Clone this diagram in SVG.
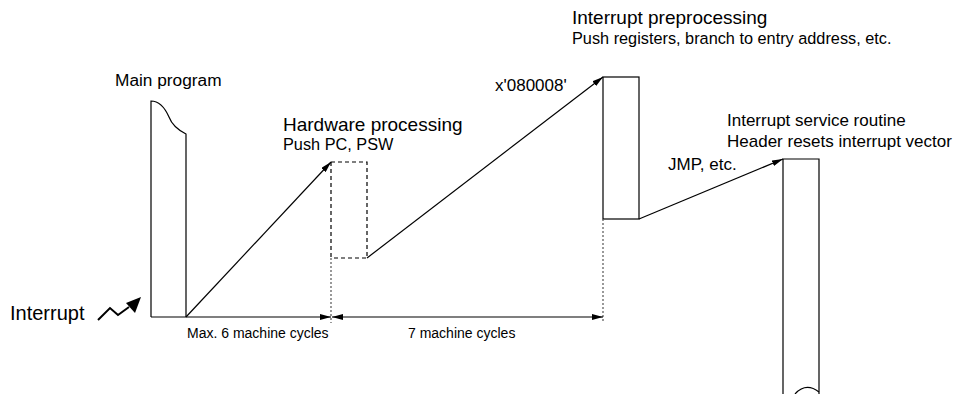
<svg xmlns="http://www.w3.org/2000/svg" width="971" height="394" viewBox="0 0 971 394">
<style>
text{font-family:"Liberation Sans",Arial,sans-serif;fill:#000}
.l{stroke:#000;stroke-width:1.2;fill:none}
.d{stroke:#000;stroke-width:1.2;fill:none;stroke-dasharray:4 3}
.o{stroke:#555;stroke-width:1.2;fill:none;stroke-dasharray:2 2}
.t1{font-size:19px}
.t2{font-size:17px}
.t3{font-size:16.3px}
.t4{font-size:14px}
</style>
<defs>
<marker id="ah" markerUnits="userSpaceOnUse" markerWidth="12" markerHeight="6" refX="11" refY="3" orient="auto">
<path d="M0,0 L11,3 L0,6 z" fill="#000"/>
</marker>
<marker id="ahs" markerUnits="userSpaceOnUse" markerWidth="12" markerHeight="6" refX="0" refY="3" orient="auto">
<path d="M11,0 L0,3 L11,6 z" fill="#000"/>
</marker>
</defs>
<rect width="971" height="394" fill="#fff"/>
<g id="main-program">
<path class="l" d="M186,317 L186,134 C178,130 172,125 169,117 C165,108 160,101 151,101 L151,317"/>
<text class="t2" x="115" y="86" style="font-size:17.3px">Main program</text>
</g>
<g id="interrupt">
<text x="10" y="320" style="font-size:20px">Interrupt</text>
<polyline points="98,320 110,308 118,315 129,307" stroke="#000" stroke-width="2" fill="none"/>
<polygon points="141,297 126,303 135,313" fill="#000"/>
</g>
<g id="hardware-processing">
<path class="d" d="M331,162 L367,162 L367,258 L331,258 M331,162 L331,258"/>
<path class="o" d="M331,258 L331,323"/>
<text class="t1" x="283" y="131">Hardware processing</text>
<text class="t3" x="283" y="150">Push PC, PSW</text>
</g>
<g id="interrupt-preprocessing">
<rect class="l" x="603" y="77" width="36" height="142"/>
<path class="o" d="M603,219 L603,323"/>
<text class="t1" x="572" y="24">Interrupt preprocessing</text>
<text class="t3" x="572" y="44">Push registers, branch to entry address, etc.</text>
<text class="t2" x="495" y="91">x'080008'</text>
</g>
<g id="interrupt-service-routine">
<path class="l" d="M783,394 L783,159 L819,159 L819,394"/>
<path class="l" d="M795,394 Q806,382 819,392"/>
<text class="t2" x="727" y="126">Interrupt service routine</text>
<text class="t2" x="727" y="147">Header resets interrupt vector</text>
</g>
<g id="connectors">
<line class="l" x1="186" y1="317" x2="331" y2="162" marker-end="url(#ah)"/>
<line class="l" x1="367" y1="258" x2="603" y2="77" marker-end="url(#ah)"/>
<line class="l" x1="639" y1="219" x2="783" y2="159" marker-end="url(#ah)"/>
<text class="t2" x="668" y="170">JMP, etc.</text>
<line class="l" x1="151" y1="317" x2="331" y2="317" marker-end="url(#ah)"/>
<line class="l" x1="332" y1="317" x2="603" y2="317" marker-start="url(#ahs)" marker-end="url(#ah)"/>
<text class="t4" x="187" y="338">Max. 6 machine cycles</text>
<text class="t4" x="408" y="338">7 machine cycles</text>
</g>
</svg>
